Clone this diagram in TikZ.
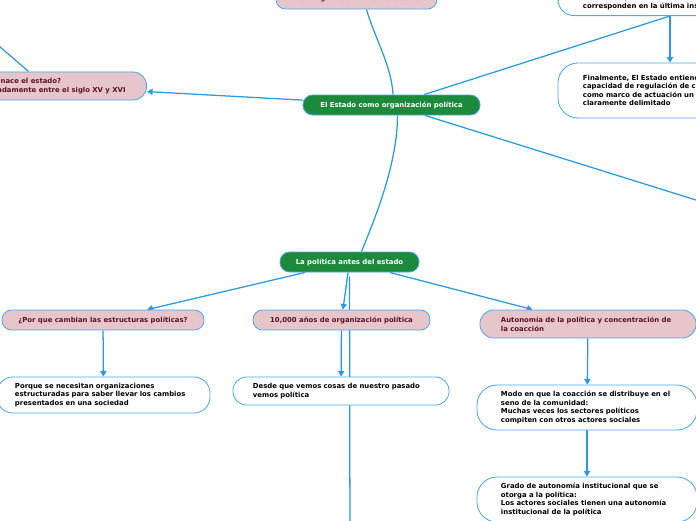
\documentclass[tikz,border=0pt]{standalone}
\usepackage{fontspec}
\setmainfont{DejaVu Sans}
\usetikzlibrary{arrows.meta, positioning, backgrounds, calc}
\definecolor{mapline}{HTML}{2A9BE0}
\definecolor{mapborder}{HTML}{4DA8EC}
\definecolor{mapgreen}{HTML}{1C8A3A}
\definecolor{mappink}{HTML}{E6C5CB}
\definecolor{mapwine}{HTML}{5A1224}
\newcommand{\mapfont}{\fontsize{4.9}{6.1}\selectfont\bfseries}
\tikzset{
  rootnode/.style={draw=mapborder, fill=mapgreen, line width=0.6pt, rounded corners=0.24cm, minimum height=0.5cm, align=center, font=\mapfont, text=white},
  topicnode/.style={draw=mapborder, fill=mappink, line width=0.6pt, rounded corners=0.24cm, minimum height=0.5cm, align=center, font=\mapfont, text=mapwine},
  notenode/.style={draw=mapborder, fill=white, line width=0.6pt, rounded corners=0.4cm, align=left, font=\mapfont, text=black, inner ysep=0pt},
  maplink/.style={line width=0.9pt, draw=mapline},
  maparrow/.style={maplink, -{Triangle[width=4.5pt, length=4pt]}}
}

\begin{document}
\begin{tikzpicture}[x=0.025cm, y=-0.025cm]
  \useasboundingbox (0,0) rectangle (696,520);
  \clip (0,0) rectangle (696,520);

  \node[rootnode, minimum width=4.425cm] at (391.5,105) (central)
    {El Estado como organización política};
  \node[rootnode, minimum width=3.475cm] at (349.5,262) (antes)
    {La política antes del estado};

  \node[topicnode, minimum width=5.05cm] at (103,320) (cambian)
    {¿Por que cambian las estructuras políticas?};
  \node[topicnode, minimum width=4.425cm] at (341.5,320) (diezmil)
    {10,000 años de organización política};
  \node[topicnode, align=left, minimum height=0.7cm, text width=4.35cm, inner xsep=0.525cm, rounded corners=0.34cm] at (588,324) (autonomia)
    {Autonomía de la política y concentración de\\la coacción};

  \node[notenode, minimum height=0.9cm, text width=4.425cm, inner xsep=0.45cm] at (103.5,395) (necesitan)
    {Porque se necesitan organizaciones\\estructuradas para saber llevar los cambios\\presentados en una sociedad};
  \node[notenode, minimum height=0.7cm, text width=4.4cm, inner xsep=0.5cm, rounded corners=0.34cm] at (341,391) (desde)
    {Desde que vemos cosas de nuestro pasado\\vemos política};
  \node[notenode, minimum height=1.125cm, text width=4.3cm, inner xsep=0.6cm, rounded corners=0.5cm] at (587,407.5) (modo)
    {Modo en que la coacción se distribuye en el\\seno de la comunidad:\\Muchas veces los sectores políticos\\compiten con otros actores sociales};
  \node[notenode, minimum height=1.125cm, text width=4.3cm, inner xsep=0.6cm, rounded corners=0.5cm] at (587,499.5) (grado)
    {Grado de autonomía institucional que se\\otorga a la política:\\Los actores sociales tienen una autonomía\\institucional de la política};

  \node[topicnode, align=left, minimum height=0.7cm, inner xsep=0.525cm, rounded corners=0.34cm, anchor=east] at (147,86) (cuando)
    {¿Cuándo nace el estado?\\Aproximadamente entre el siglo XV y XVI};
  \node[topicnode, minimum width=4.025cm] at (356.5,-1) (rasgos)
    {Los rasgos esenciales del estado};
  \node[notenode, anchor=south, text width=4.35cm, inner xsep=0.625cm, inner ysep=0.15cm] at (670,16) (monopolio)
    {Remitía a que sólo el Estado le\\corresponden en la última instancia};
  \node[notenode, minimum height=1.375cm, text width=4.35cm, inner xsep=0.625cm, rounded corners=0.5cm] at (670,90.5) (finalmente)
    {Finalmente, El Estado entiende su\\capacidad de regulación de conflictos\\como marco de actuación un territorio\\claramente delimitado};

  \coordinate (offright) at (760,220);
  \coordinate (offbottom) at (350,560);
  \coordinate (offleft) at ($(cuando.center)+(-110,-95)$);

  \begin{pgfonlayer}{background}
    \clip (0,0) rectangle (696,520);
    \draw[maplink, shorten <=0.1cm] (antes) -- (offbottom);
    \draw[maplink] (offleft) -- (cuando);
    \draw[maparrow] (central) -- (cuando);
    \draw[maplink] ([xshift=0.04cm]central.north) .. controls +(-2,-30) and +(8,28) .. ([xshift=0.25cm]rasgos.south);
    \draw[maplink] ([xshift=0.15cm]central.south) .. controls +(0,50) and +(12,-30) .. ([xshift=0.3cm]antes.north);
    \draw[maplink] (central) -- (monopolio.south);
    \draw[maparrow] (monopolio) -- (finalmente);
    \draw[maplink] (central) -- (offright);
    \draw[maparrow] (antes) -- (cambian);
    \draw[maparrow] (antes) -- (diezmil);
    \draw[maparrow] (antes) -- (autonomia);
    \draw[maparrow] (cambian) -- (necesitan);
    \draw[maparrow] (diezmil) -- (desde);
    \draw[maparrow] (autonomia) -- (modo);
    \draw[maparrow] (modo) -- (grado);
  \end{pgfonlayer}
\end{tikzpicture}
\end{document}
